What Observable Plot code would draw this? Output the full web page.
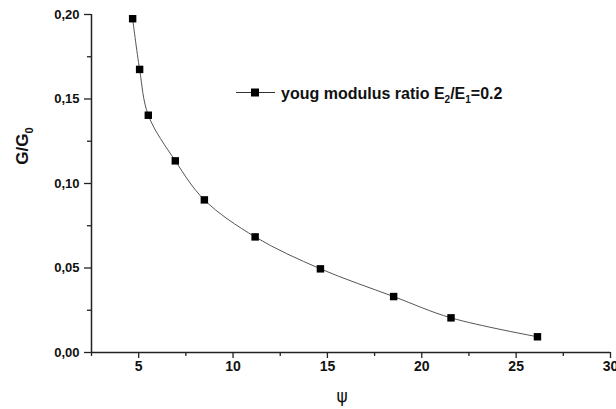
<!DOCTYPE html>
<html>
<head>
<meta charset="utf-8">
<script src="https://cdn.jsdelivr.net/npm/d3@7"></script>
<script src="https://cdn.jsdelivr.net/npm/@observablehq/plot@0.6"></script>
<style>
  html, body { margin: 0; padding: 0; background: #fff; }
  #chart { position: relative; width: 616px; height: 409px; overflow: hidden; }
  svg { font-family: "Liberation Sans", Arial, sans-serif; }
</style>
</head>
<body>
<div id="chart"></div>
<script>
const psi = [4.68, 5.05, 5.51, 6.94, 8.48, 11.17, 14.63, 18.51, 21.55, 26.13];
const ratio = [0.1975, 0.1675, 0.1404, 0.1134, 0.0903, 0.0684, 0.0495, 0.0331, 0.0205, 0.0093];
const xMajor = [5, 10, 15, 20, 25, 30];
const xMinor = [2.5, 7.5, 12.5, 17.5, 22.5, 27.5];
const yMajor = [0, 0.05, 0.10, 0.15, 0.20];
const yMinor = [0.025, 0.075, 0.125, 0.175];
const seriesLabel = "youg modulus ratio";

const data = psi.map((x, i) => ({x, y: ratio[i]}));
const fmtY = d => d3.format(".2f")(d).replace(".", ",");

const plot = Plot.plot({
  width: 616,
  height: 409,
  marginLeft: 91,
  marginRight: 6,
  marginTop: 14,
  marginBottom: 57,
  x: {domain: [2.5, 30]},
  y: {domain: [0, 0.2]},
  style: {fontFamily: "Liberation Sans, Arial, sans-serif"},
  marks: [
    Plot.axisX({ticks: xMinor, tickSize: 4, tickFormat: () => "", stroke: "#222", strokeWidth: 1.3, label: null}),
    Plot.axisX({ticks: xMajor, tickSize: 6, tickPadding: 3, tickFormat: d => String(d), fontSize: 14, fontWeight: "bold", fill: "#111", stroke: "#222", strokeWidth: 1.3, label: null}),
    Plot.axisY({ticks: yMinor, tickSize: 4, tickFormat: () => "", stroke: "#222", strokeWidth: 1.3, label: null}),
    Plot.axisY({ticks: yMajor, tickSize: 7, tickPadding: 5, tickFormat: fmtY, fontSize: 13, fontWeight: "bold", fill: "#111", stroke: "#222", strokeWidth: 1.3, label: null}),
    Plot.ruleX([2.5], {stroke: "#222", strokeWidth: 1.5}),
    Plot.ruleY([0], {stroke: "#222", strokeWidth: 1.5}),
    Plot.line(data, {x: "x", y: "y", curve: "catmull-rom", stroke: "#555", strokeWidth: 1}),
    Plot.dot(data, {x: "x", y: "y", symbol: "square", r: 4.2, fill: "#000", stroke: "none"})
  ]
});
document.getElementById("chart").appendChild(plot);

const svg = d3.select(plot);
// Y axis title with subscript
const yt = svg.append("text")
  .attr("transform", "translate(28,146) rotate(-90)")
  .attr("text-anchor", "middle")
  .attr("font-size", 17).attr("font-weight", "bold").attr("fill", "#111")
  .attr("font-family", "Liberation Sans, Arial, sans-serif");
yt.append("tspan").text("G/G");
yt.append("tspan").attr("font-size", 11).attr("dy", 5).text("0");

// X axis title
svg.append("text")
  .attr("x", 342).attr("y", 402)
  .attr("text-anchor", "middle")
  .attr("font-size", 17).attr("fill", "#111")
  .attr("font-family", "DejaVu Sans, sans-serif")
  .text("\u03C8");

// Legend
const lg = svg.append("g");
lg.append("line").attr("x1", 236).attr("x2", 275).attr("y1", 92.5).attr("y2", 92.5).attr("stroke", "#333").attr("stroke-width", 1);
lg.append("rect").attr("x", 251).attr("y", 88.5).attr("width", 8).attr("height", 8).attr("fill", "#000");
const lt = lg.append("text").attr("x", 281).attr("y", 98.5)
  .attr("text-anchor", "start")
  .attr("font-size", 16).attr("font-weight", "bold").attr("fill", "#111")
  .attr("font-family", "Liberation Sans, Arial, sans-serif");
lt.append("tspan").text(seriesLabel + " E");
lt.append("tspan").attr("font-size", 10).attr("dy", 4).text("2");
lt.append("tspan").attr("dy", -4).text("/E");
lt.append("tspan").attr("font-size", 10).attr("dy", 4).text("1");
lt.append("tspan").attr("dy", -4).text("=0.2");
</script>
</body>
</html>
